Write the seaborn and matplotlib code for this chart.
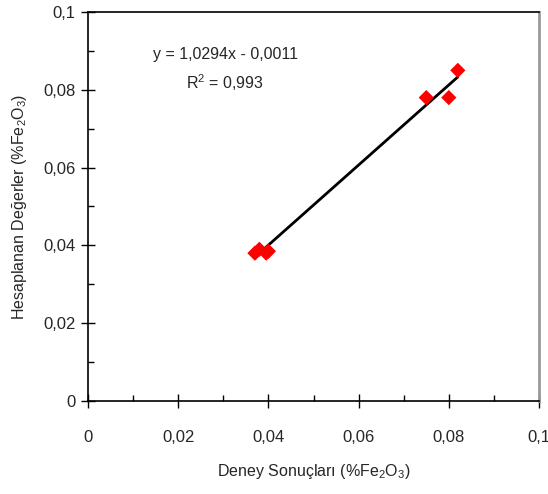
import numpy as np
import pandas as pd
import matplotlib
matplotlib.use('Agg')
import matplotlib.pyplot as plt
from matplotlib.ticker import MultipleLocator, FuncFormatter
import seaborn as sns

# --- data ---
deney = [0.037, 0.038, 0.0395, 0.040, 0.075, 0.080, 0.082]
hesap = [0.038, 0.039, 0.038, 0.0385, 0.078, 0.078, 0.085]
egim = 1.0294
sabit = -0.0011
r2_text = '0,993'

df = pd.DataFrame({'deney': deney, 'hesap': hesap})

sns.set_style('white')
plt.rcParams['font.family'] = ['Liberation Sans', 'DejaVu Sans']
plt.rcParams['mathtext.fontset'] = 'custom'
plt.rcParams['mathtext.rm'] = 'Liberation Sans'
plt.rcParams['mathtext.it'] = 'Liberation Sans'

fig = plt.figure(figsize=(5.48, 4.94), dpi=100)
ax = fig.add_axes([0.1606, 0.1883, 0.823, 0.7874])

# trend line over the range of the data
x_fit = np.array([min(deney), max(deney)])
fit_df = pd.DataFrame({'x': x_fit, 'y': egim * x_fit + sabit})
sns.lineplot(data=fit_df, x='x', y='y', color='black', linewidth=2, ax=ax, zorder=2)

sns.scatterplot(data=df, x='deney', y='hesap', marker='D', color='red',
                s=60, edgecolor='none', ax=ax, zorder=3)

ax.set_xlim(0, 0.1)
ax.set_ylim(0, 0.1)

fmt = FuncFormatter(lambda v, p: '0' if abs(v) < 1e-12 else f'{v:g}'.replace('.', ','))
for axis in (ax.xaxis, ax.yaxis):
    axis.set_major_locator(MultipleLocator(0.02))
    axis.set_minor_locator(MultipleLocator(0.01))
    axis.set_major_formatter(fmt)

ax.tick_params(which='major', direction='inout', length=10, width=1, color='black',
               labelsize=12, bottom=True, left=True, top=False, right=False)
ax.tick_params(which='minor', direction='in', length=4, width=1, color='black',
               bottom=True, left=True, top=False, right=False)
ax.tick_params(axis='x', which='major', pad=16)
ax.tick_params(axis='y', which='major', pad=4)

for side in ['left', 'bottom', 'top']:
    ax.spines[side].set_color('black')
    ax.spines[side].set_linewidth(1.2)
ax.spines['right'].set_color('#999999')
ax.spines['right'].set_linewidth(2)

ax.set_xlabel(r'Deney Sonuçları (%Fe$_2$O$_3$)', fontsize=11.5, labelpad=12)
ax.set_ylabel(r'Hesaplanan Değerler (%Fe$_2$O$_3$)', fontsize=11.5, labelpad=10)

ax.text(0.0304, 0.0892, 'y = 1,0294x - 0,0011', fontsize=11.5, ha='center', va='center')
ax.text(0.0304, 0.0818, r'R$^2$ = ' + r2_text, fontsize=11.5, ha='center', va='center')

fig.savefig('out.png', dpi=100)
